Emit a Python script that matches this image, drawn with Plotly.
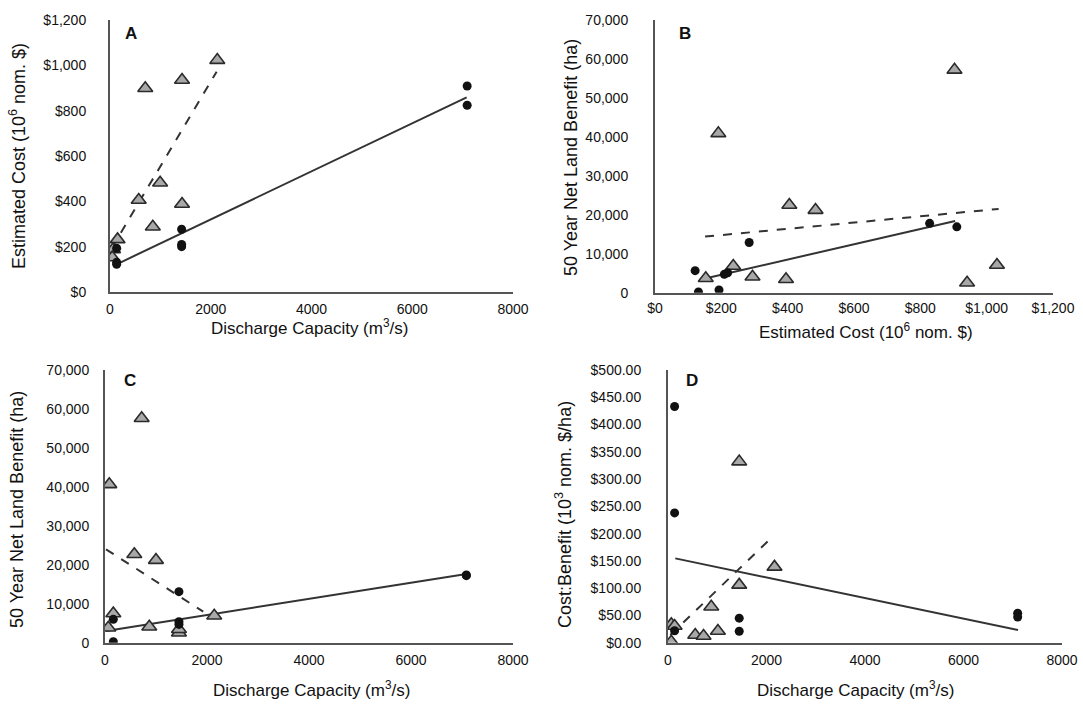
import plotly.graph_objects as go

W, H = 1083, 705

# ---------------- Data ----------------
# Panel A: Discharge capacity (m3/s) vs Estimated cost (10^6 $)
a_tri_x = [2130, 700, 1430, 995, 570, 1430, 850, 150, 60, 45]
a_tri_y = [1023, 899, 935, 482, 406, 388, 288, 232, 188, 152]
a_dot_x = [132, 132, 132, 1422, 1422, 1422, 7090, 7090]
a_dot_y = [193, 122, 131, 277, 210, 200, 909, 824]
a_solid_x = [100, 7080]
a_solid_y = [119, 859]
a_dash_x = [33, 2117]
a_dash_y = [193, 972]

# Panel B: Estimated cost vs 50-year net land benefit (ha)
b_tri_x = [191, 405, 484, 236, 153, 294, 395, 903, 1031, 941]
b_tri_y = [40900, 22500, 21200, 6850, 3700, 4100, 3440, 57200, 7100, 2570]
b_dot_x = [121, 131, 193, 209, 219, 284, 828, 910]
b_dot_y = [5650, 180, 690, 4720, 5130, 12900, 17800, 16900]
b_solid_x = [141, 905]
b_solid_y = [3440, 18400]
b_dash_x = [151, 1036]
b_dash_y = [14400, 21500]

# Panel C: Discharge capacity vs 50-year net land benefit (ha)
c_tri_x = [719, 84, 575, 999, 163, 65, 868, 1450, 1450, 2142]
c_tri_y = [57600, 40650, 22700, 21200, 7500, 3850, 4100, 2570, 3440, 6930]
c_dot_x = [163, 163, 1450, 1450, 1450, 7085, 7085]
c_dot_y = [6000, 260, 13100, 5400, 4700, 17400, 17200]
c_solid_x = [20, 7087]
c_solid_y = [3000, 17640]
c_dash_x = [20, 1926]
c_dash_y = [23970, 7960]

# Panel D: Discharge capacity vs cost:benefit (10^3 $/ha)
d_tri_x = [1446, 2162, 1446, 878, 1013, 553, 722, 67, 134, 67]
d_tri_y = [332, 139, 106, 66, 21.4, 14.1, 12.3, 33.7, 30.6, 1.8]
d_dot_x = [134, 134, 134, 1446, 1446, 7100, 7100]
d_dot_y = [433, 238, 22, 45, 21, 54, 47]
d_solid_x = [148, 7107]
d_solid_y = [154.6, 23.3]
d_dash_x = [47, 2141]
d_dash_y = [14, 196]

# Tick values
q_ticks = [0, 2000, 4000, 6000, 8000]
cost_ticks = [0, 200, 400, 600, 800, 1000, 1200]
ben_ticks = [0, 10000, 20000, 30000, 40000, 50000, 60000, 70000]
cb_ticks = [0, 50, 100, 150, 200, 250, 300, 350, 400, 450, 500]

q_text = [str(v) for v in q_ticks]
cost_text = ["${:,}".format(v) for v in cost_ticks]
ben_text = ["{:,}".format(v) for v in ben_ticks]
cb_text = ["${:,.2f}".format(v) for v in cb_ticks]

# ---------------- Layout geometry (pixels) ----------------
def xd(p0, p1):
    return [p0 / W, p1 / W]

def yd(top, bottom):
    return [1 - bottom / H, 1 - top / H]

FONT = "Arial, Liberation Sans, Helvetica, sans-serif"
AXC = "#555555"
TXT = "#111111"

fig = go.Figure()

panels = [
    dict(n="", tx=a_tri_x, ty=a_tri_y, dx=a_dot_x, dy=a_dot_y,
         sx=a_solid_x, sy=a_solid_y, ex=a_dash_x, ey=a_dash_y),
    dict(n="2", tx=b_tri_x, ty=b_tri_y, dx=b_dot_x, dy=b_dot_y,
         sx=b_solid_x, sy=b_solid_y, ex=b_dash_x, ey=b_dash_y),
    dict(n="3", tx=c_tri_x, ty=c_tri_y, dx=c_dot_x, dy=c_dot_y,
         sx=c_solid_x, sy=c_solid_y, ex=c_dash_x, ey=c_dash_y),
    dict(n="4", tx=d_tri_x, ty=d_tri_y, dx=d_dot_x, dy=d_dot_y,
         sx=d_solid_x, sy=d_solid_y, ex=d_dash_x, ey=d_dash_y),
]

for p in panels:
    xa, ya = "x" + p["n"], "y" + p["n"]
    fig.add_trace(go.Scatter(x=p["sx"], y=p["sy"], mode="lines", xaxis=xa, yaxis=ya,
                             line=dict(color="#333333", width=2), showlegend=False,
                             hoverinfo="skip"))
    fig.add_trace(go.Scatter(x=p["ex"], y=p["ey"], mode="lines", xaxis=xa, yaxis=ya,
                             line=dict(color="#333333", width=2, dash="dash"),
                             showlegend=False, hoverinfo="skip"))
    fig.add_trace(go.Scatter(x=p["tx"], y=p["ty"], mode="markers", xaxis=xa, yaxis=ya,
                             marker=dict(symbol="triangle-up", size=13, color="#a8a8a8",
                                         line=dict(color="#2a2a2a", width=1.6)),
                             showlegend=False))
    fig.add_trace(go.Scatter(x=p["dx"], y=p["dy"], mode="markers", xaxis=xa, yaxis=ya,
                             marker=dict(symbol="circle", size=9, color="#111111"),
                             showlegend=False))

def xaxis(domain, rng, tickvals, ticktext, anchor, standoff=3):
    return dict(domain=domain, range=rng, tickvals=tickvals, ticktext=ticktext,
                showgrid=False, zeroline=False, showline=True, linecolor=AXC, linewidth=2,
                ticks="", anchor=anchor, tickfont=dict(family=FONT, size=14, color=TXT),
                ticklabelstandoff=standoff, automargin=False)

def yaxis(domain, rng, tickvals, ticktext, anchor, standoff):
    return dict(domain=domain, range=rng, tickvals=tickvals, ticktext=ticktext,
                showgrid=False, zeroline=False, showline=True, linecolor=AXC, linewidth=2,
                ticks="", anchor=anchor, tickfont=dict(family=FONT, size=14, color=TXT),
                ticklabelstandoff=standoff, automargin=False)

fig.update_layout(
    width=W, height=H, margin=dict(l=0, r=0, t=0, b=0, autoexpand=False),
    paper_bgcolor="white", plot_bgcolor="white", showlegend=False,
    xaxis=xaxis(xd(110, 513), [0, 8000], q_ticks, q_text, "y"),
    yaxis=yaxis(yd(20, 292), [0, 1200], cost_ticks, cost_text, "x", 19),
    xaxis2=xaxis(xd(655, 1053), [0, 1200], cost_ticks, cost_text, "y2", standoff=1),
    yaxis2=yaxis(yd(20, 292.7), [0, 70000], ben_ticks, ben_text, "x2", 22),
    xaxis3=xaxis(xd(105, 513), [0, 8000], q_ticks, q_text, "y3"),
    yaxis3=yaxis(yd(370, 642.7), [0, 70000], ben_ticks, ben_text, "x3", 11),
    xaxis4=xaxis(xd(668, 1062), [0, 8000], q_ticks, q_text, "y4"),
    yaxis4=yaxis(yd(370, 642.7), [0, 500], cb_ticks, cb_text, "x4", 22),
)

def ann(text, x, y, size=17, bold=False, angle=0):
    fig.add_annotation(text=("<b>%s</b>" % text) if bold else text,
                       x=x / W, y=1 - y / H, xref="paper", yref="paper",
                       showarrow=False, textangle=angle, xanchor="center", yanchor="middle",
                       font=dict(family=FONT, size=size, color=TXT))

# Panel letters
ann("A", 131, 34, size=17, bold=True)
ann("B", 685, 34, size=17, bold=True)
ann("C", 130, 380, size=17, bold=True)
ann("D", 692, 380, size=17, bold=True)

# Axis titles
ann("Discharge Capacity (m<sup>3</sup>/s)", 309, 327)
ann("Estimated Cost (10<sup>6</sup> nom. $)", 866, 331)
ann("Discharge Capacity (m<sup>3</sup>/s)", 311, 689)
ann("Discharge Capacity (m<sup>3</sup>/s)", 855, 689)
ann("Estimated Cost (10<sup>6</sup> nom. $)", 17, 156, size=18, angle=-90)
ann("50 Year Net Land Benefit (ha)", 571, 158, size=18, angle=-90)
ann("50 Year Net Land Benefit (ha)", 17, 510, size=18, angle=-90)
ann("Cost:Benefit (10<sup>3</sup> nom. $/ha)", 563, 515, size=18, angle=-90)

fig.write_html("out.html", config={"displayModeBar": False},
               post_script="document.body.style.margin='0';document.body.style.overflow='hidden';")
